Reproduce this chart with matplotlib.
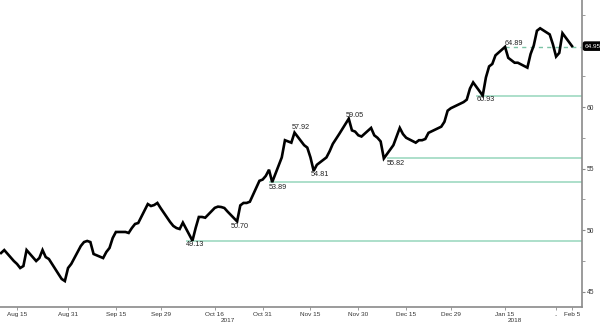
import matplotlib

matplotlib.use("Agg")
import matplotlib.dates as mdates
import matplotlib.pyplot as plt
import numpy as np
import pandas as pd

# daily closes, business days Aug 10 2017 - Feb 5 2018
CLOSES = [
    48.13, 48.37,
    47.48, 47.24, 46.91, 47.07, 48.37,
    47.48, 47.72, 48.37, 47.80, 47.64,
    46.42, 46.02, 45.85, 46.91, 47.24,
    48.70, 49.02, 49.11, 49.02, 48.05,
    47.72, 48.21, 48.54, 49.35, 49.84,
    49.84, 49.76, 50.16, 50.49, 50.57,
    52.11, 51.95, 52.03, 52.20, 51.79,
    50.65, 50.33, 50.16, 50.08, 50.60,
    49.13, 50.16, 51.06, 51.06, 51.00,
    51.80, 51.90, 51.87, 51.79, 51.50,
    50.70, 52.00, 52.20, 52.20, 52.30,
    54.00, 54.10, 54.40, 54.90, 53.89,
    55.90, 57.30, 57.20, 57.10, 57.92,
    56.90, 56.70, 55.90, 54.81, 55.30,
    55.90, 56.40, 57.00, 57.40, 57.80,
    59.05, 58.10, 58.00, 57.70, 57.60,
    58.30, 57.70, 57.50, 57.20, 55.82,
    56.90, 57.60, 58.30, 57.80, 57.50,
    57.10, 57.30, 57.30, 57.40, 57.90,
    58.40, 58.80, 59.70, 59.90,
    60.40, 60.60, 61.50, 62.00,
    60.93, 62.40, 63.30, 63.50, 64.20,
    64.89, 64.00, 63.80, 63.60, 63.60,
    63.20, 64.30, 65.00, 66.20, 66.40,
    65.90, 65.10, 64.10, 64.40, 66.00,
    64.95,
]
HOLIDAYS = ["2017-12-25", "2018-01-01"]
LAST_PRICE = "64.95"

# marked levels: value, label text, date where the mark starts, line style
LEVELS = [49.13, 50.70, 53.89, 54.81, 55.82, 57.92, 59.05, 60.93, 64.89]
LEVEL_TEXT = ["49.13", "50.70", "53.89", "54.81", "55.82", "57.92", "59.05", "60.93", "64.89"]
LEVEL_DATES = ["2017-10-07", "2017-10-21", "2017-11-02", "2017-11-15", "2017-12-09",
               "2017-11-09", "2017-11-26", "2018-01-06", "2018-01-15"]
LEVEL_LINE = ["solid", None, "solid", None, "solid", None, None, "solid", "dashed"]
LABEL_DY = [-4, -5, -5, -4, -5, 5, 3, -4, 3.5]  # pixel offsets of the label text

TICK_DATES = ["2017-08-15", "2017-08-31", "2017-09-15", "2017-09-29", "2017-10-16",
              "2017-10-31", "2017-11-15", "2017-11-30", "2017-12-15", "2017-12-29",
              "2018-01-15", "2018-01-31", "2018-02-05"]
TICK_LABELS = ["Aug 15", "Aug 31", "Sep 15", "Sep 29", "Oct 16", "Oct 31", "Nov 15",
               "Nov 30", "Dec 15", "Dec 29", "Jan 15", "..", "Feb 5"]
YEARS = ["2017", "2018"]
YEAR_DATES = ["2017-10-20", "2018-01-18"]

GREEN = "#a6dcc6"
AXIS_GREY = "#8a8a8a"

plt.rcParams["font.family"] = ["Liberation Sans", "DejaVu Sans"]

dates = pd.bdate_range("2017-08-10", "2018-02-05")
dates = dates[~dates.isin(pd.to_datetime(HOLIDAYS))]
prices = np.array(CLOSES)

fig = plt.figure(figsize=(6.0, 3.23), dpi=100)
ax = fig.add_axes([0, 16 / 323, 582 / 600, 307 / 323])

ax.plot(dates, prices, color="black", lw=1.9, solid_joinstyle="miter", zorder=3)

xmax = pd.Timestamp("2018-02-08 03:00")
for val, txt, d, style, dy in zip(LEVELS, LEVEL_TEXT, LEVEL_DATES, LEVEL_LINE, LABEL_DY):
    d = pd.Timestamp(d)
    if style == "solid":
        ax.hlines(val, d, xmax, color=GREEN, lw=1.3, zorder=1)
    elif style == "dashed":
        ax.hlines(val, d, xmax, color="#7cc3a6", lw=1.0, linestyles=(0, (3, 3)), zorder=1)
    ax.annotate(txt, xy=(d, val), xytext=(0, dy), textcoords="offset pixels",
                ha="left", va="center", fontsize=5.2, color="#222222", zorder=4)

ax.set_xlim(pd.Timestamp("2017-08-09 16:00"), xmax)
ax.set_ylim(43.74, 68.70)

for side in ["left", "top"]:
    ax.spines[side].set_visible(False)
for side in ["right", "bottom"]:
    ax.spines[side].set_color(AXIS_GREY)
    ax.spines[side].set_linewidth(1.2)

ax.yaxis.tick_right()
ax.set_yticks([45, 50, 55, 60])
ax.set_yticks([47.5, 52.5, 57.5, 62.5, 65, 67.5], minor=True)
ax.tick_params(axis="y", which="major", length=2.5, width=0.8, color=AXIS_GREY,
               labelsize=4.8, pad=1, labelcolor="#333333")
ax.tick_params(axis="y", which="minor", length=2, width=0.6, color=AXIS_GREY)

ax.set_xticks(pd.to_datetime(TICK_DATES))
ax.set_xticklabels(TICK_LABELS)
ax.tick_params(axis="x", which="major", length=2, width=0.6, color=AXIS_GREY,
               labelsize=4.6, pad=1.5, labelcolor="#333333")

for yr, d in zip(YEARS, YEAR_DATES):
    ax.annotate(yr, xy=(pd.Timestamp(d), 0), xycoords=("data", "axes fraction"),
                xytext=(0, -13), textcoords="offset pixels", ha="center", va="center",
                fontsize=4.6, color="#333333", annotation_clip=False)

ax.annotate(LAST_PRICE, xy=(1, prices[-1]), xycoords=("axes fraction", "data"),
            xytext=(3, 0), textcoords="offset pixels", ha="left", va="center",
            fontsize=4.6, color="white", annotation_clip=False,
            bbox={"boxstyle": "round,pad=0.25", "facecolor": "black", "edgecolor": "black"})

fig.savefig("out.png", dpi=100)
